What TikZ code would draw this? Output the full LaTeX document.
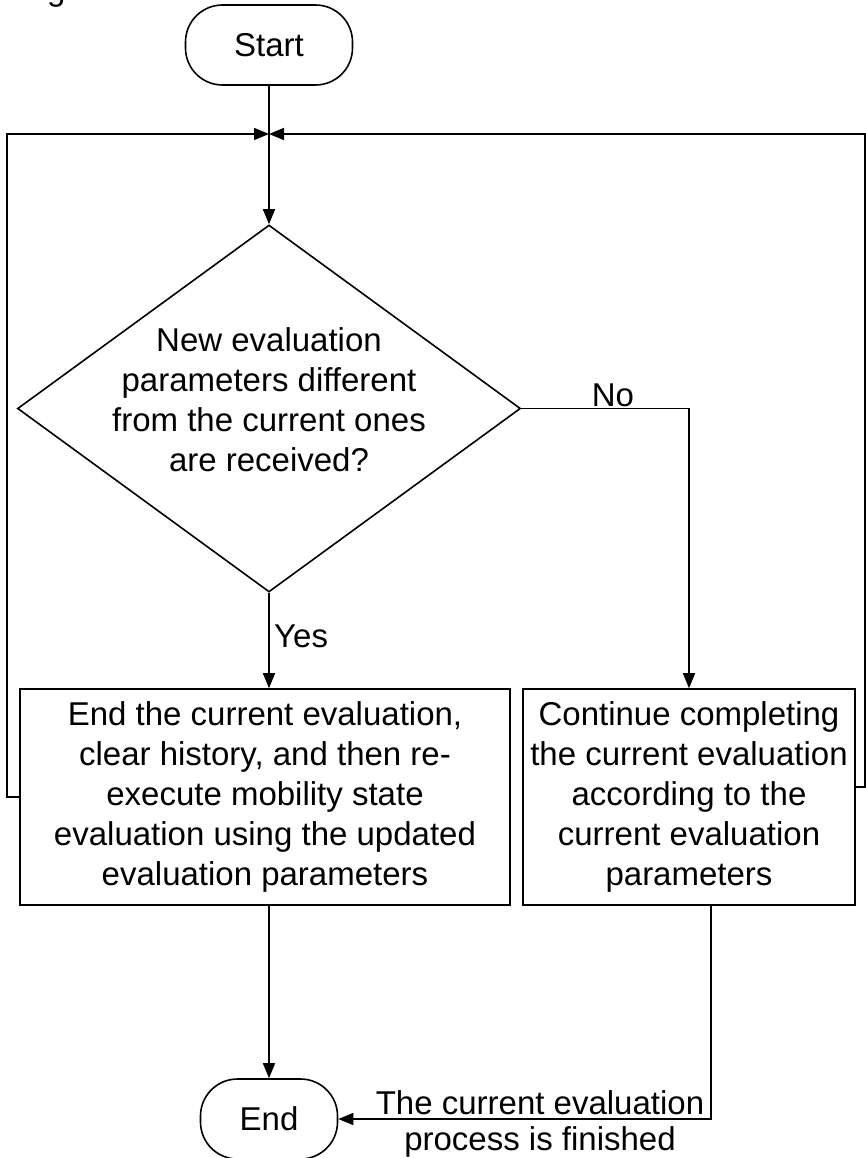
\documentclass[tikz,border=0pt]{standalone}
\usepackage{fontspec}
\setmainfont{Liberation Sans}
\usetikzlibrary{shapes.geometric,arrows.meta}
\begin{document}
\begin{tikzpicture}[x=1pt,y=1pt,
  font=\fontsize{33}{40}\selectfont,
  line/.style={draw=black, line width=1.6pt},
  arr/.style={line, -{Triangle[length=15pt,width=12pt]}},
  term/.style={line, rectangle, rounded corners=37pt, minimum width=167pt, minimum height=80pt, inner sep=0pt},
  proc/.style={line, rectangle, inner sep=0pt, align=center, minimum height=216pt},
  decision/.style={line, diamond, minimum width=503pt, minimum height=367pt, inner sep=0pt},
  lbl/.style={inner sep=0pt, align=center}]
\useasboundingbox (0,0) rectangle (865,-1158);
\fill[white] (0,0) rectangle (865,-1158);
\node[lbl, anchor=base west] (fig) at (47,-0.5) {g};
\node[term] (start) at (269,-45) {Start};
\coordinate (jn) at (269,-134);
\node[decision] (dec) at (269,-408.5) {};
\node[lbl] (dectext) at (269,-400) {New evaluation\\parameters different\\from the current ones\\are received?};
\node[proc, minimum width=490pt] (box1) at (265,-797) {End the current evaluation,\\clear history, and then re-\\execute mobility state\\evaluation using the updated\\evaluation parameters};
\node[proc, minimum width=332pt] (box2) at (689,-797) {Continue completing\\the current evaluation\\according to the\\current evaluation\\parameters};
\node[term, minimum width=137pt] (endn) at (269,-1119) {End};
\draw[arr] (start) -- (dec.north);
\draw[arr] (box1.west) -- ++(-12,0) |- (jn);
\draw[arr] ([yshift=10pt]box2.east) -- ++(9,0) |- (jn);
\draw[arr] (dec.east) -| (box2.north);
\node[lbl, anchor=base] (no) at (613,-406) {No};
\draw[arr] (dec.south) -- (dec.south |- box1.north);
\node[lbl, anchor=west] (yes) at (274,-636) {Yes};
\draw[arr] (box1.south -| endn.north) -- (endn.north);
\draw[arr] ([xshift=22pt]box2.south) |- (endn.east);
\node[lbl, anchor=base] (fin1) at (540,-1114) {The current evaluation};
\node[lbl, anchor=base] (fin2) at (540,-1150) {process is finished};
\end{tikzpicture}
\end{document}
